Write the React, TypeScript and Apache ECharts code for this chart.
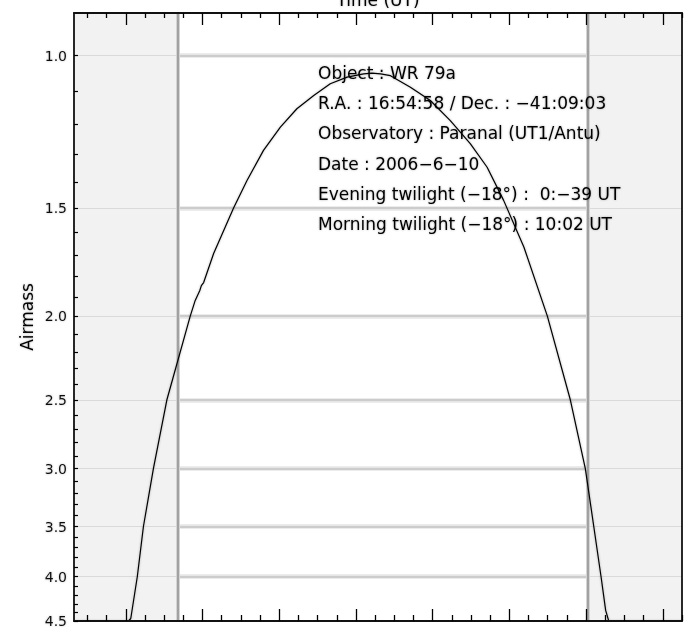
import React, { useEffect, useRef } from "react";
import * as echarts from "echarts";

// Curve: time (hours UT) and airmass (clipped at 4.5)
const hoursUT = [
  -3.35, -1.93, -1.87, -1.7, -1.54, -1.28, -0.93, -0.32, -0.19, -0.07, -0.03, 0.03,
  0.29, 0.81, 1.16, 1.59, 2.03, 2.46, 2.9, 3.33, 3.77, 4.2, 4.42, 4.64, 4.9, 5.42,
  5.94, 6.46, 6.98, 7.42, 7.85, 8.38, 8.99, 9.59, 9.98, 10.2, 10.39, 10.51, 10.59, 12.5,
];
const airmass = [
  4.5, 4.5, 4.47, 4.0, 3.5, 3.0, 2.5, 2.0, 1.918, 1.868, 1.844, 1.829,
  1.693, 1.5, 1.394, 1.287, 1.21, 1.152, 1.112, 1.078, 1.059, 1.05, 1.048, 1.05, 1.055, 1.088,
  1.127, 1.189, 1.264, 1.346, 1.47, 1.665, 2.0, 2.5, 3.0, 3.5, 4.0, 4.375, 4.5, 4.5,
];

const yLabelValues = [1.0, 1.5, 2.0, 2.5, 3.0, 3.5, 4.0, 4.5];
const yTickValues = [
  1.0, 1.1, 1.2, 1.3, 1.4, 1.5, 1.6, 1.7, 1.8, 1.9, 2.0, 2.1, 2.2, 2.3, 2.4, 2.5, 2.6, 2.7,
  2.8, 2.9, 3.0, 3.1, 3.2, 3.3, 3.4, 3.5, 3.6, 3.7, 3.8, 3.9, 4.0, 4.1, 4.2, 4.3, 4.4, 4.5,
];
const gridValues = [1.0, 1.5, 2.0, 2.5, 3.0, 3.5, 4.0];
const xMajorTicks = [-2, 0, 2, 4, 6, 8, 10, 12];
const xMinorTicks = [
  -3, -2.5, -1.5, -1, -0.5, 0.5, 1, 1.5, 2.5, 3, 3.5, 4.5, 5, 5.5, 6.5, 7, 7.5, 8.5, 9,
  9.5, 10.5, 11, 11.5, 12.5,
];

const X_MIN = -3.35;
const X_MAX = 12.5;
const AIRMASS_TOP = 0.893;
const AIRMASS_BOTTOM = 4.5;
const EVENING_TWILIGHT = -(39 / 60); // 0:-39 UT
const MORNING_TWILIGHT = 10 + 2 / 60; // 10:02 UT

const infoLines = [
  "Object : WR 79a",
  "R.A. : 16:54:58 / Dec. : −41:09:03",
  "Observatory : Paranal (UT1/Antu)",
  "Date : 2006−6−10",
  "Evening twilight (−18°) :  0:−39 UT",
  "Morning twilight (−18°) : 10:02 UT",
];

const FONT = "DejaVu Sans";

export default function App() {
  const ref = useRef<HTMLDivElement>(null);

  useEffect(() => {
    if (!ref.current) return;
    const chart = echarts.init(ref.current, null, { renderer: "svg" });
    const ln = (a: number) => Math.log(a);
    const yMin = ln(AIRMASS_TOP);
    const yMax = ln(AIRMASS_BOTTOM);
    const curveData = hoursUT.map((h, i) => [h, ln(airmass[i])]);

    const frameLine = {
      show: true,
      onZero: false,
      lineStyle: { color: "#111", width: 1.8 },
    };
    const xAxisBase = (position: string, ticks: number[], len: number, showLine: boolean) => ({
      type: "value",
      position,
      min: X_MIN,
      max: X_MAX,
      z: 6,
      axisLine: showLine ? frameLine : { show: false, onZero: false },
      axisTick: {
        show: true,
        inside: true,
        length: len,
        customValues: ticks,
        lineStyle: { color: "#000", width: 1.3 },
      },
      axisLabel: { show: false },
      splitLine: { show: false },
    });

    const thinGrid = gridValues.map((v) => [
      { coord: [X_MIN, ln(v)], lineStyle: { color: "#dadada", width: 1, type: "solid" } },
      { coord: [X_MAX, ln(v)] },
    ]);
    const glowGrid = gridValues.map((v) => [
      { coord: [EVENING_TWILIGHT, ln(v)], lineStyle: { color: "#e6e6e6", width: 4.5, type: "solid" } },
      { coord: [MORNING_TWILIGHT, ln(v)] },
    ]);
    const thickGrid = gridValues.map((v) => [
      { coord: [EVENING_TWILIGHT, ln(v)], lineStyle: { color: "#cccccc", width: 2, type: "solid" } },
      { coord: [MORNING_TWILIGHT, ln(v)] },
    ]);
    const twilightGlow = [EVENING_TWILIGHT, MORNING_TWILIGHT].map((t) => ({
      xAxis: t,
      lineStyle: { color: "#d4d4d4", width: 4, type: "solid" },
    }));
    const twilightBorders = [EVENING_TWILIGHT, MORNING_TWILIGHT].map((t) => ({
      xAxis: t,
      lineStyle: { color: "#9c9c9c", width: 1.8, type: "solid" },
    }));

    const textStyleBase = {
      fontFamily: FONT,
      fill: "#000",
      textShadowColor: "rgba(0,0,0,0.3)",
      textShadowBlur: 2,
    };

    chart.setOption({
      animation: false,
      grid: { left: 74, right: 10, top: 13, bottom: 10, containLabel: false },
      xAxis: [
        xAxisBase("top", xMajorTicks, 12, true),
        xAxisBase("top", xMinorTicks, 5, false),
        xAxisBase("bottom", xMajorTicks, 12, true),
        xAxisBase("bottom", xMinorTicks, 6, false),
      ],
      yAxis: [
        {
          type: "value",
          inverse: true,
          min: yMin,
          max: yMax,
          position: "left",
          z: 6,
          axisLine: frameLine,
          axisTick: {
            show: true,
            inside: true,
            length: 4,
            customValues: yTickValues.map(ln),
            lineStyle: { color: "#000", width: 1.2 },
          },
          axisLabel: {
            show: true,
            customValues: yLabelValues.map(ln),
            formatter: (v: number) => Math.exp(v).toFixed(1),
            margin: 7,
            fontSize: 14,
            fontFamily: FONT,
            color: "#111",
            textShadowColor: "rgba(0,0,0,0.25)",
            textShadowBlur: 2,
          },
          splitLine: { show: false },
        },
        {
          type: "value",
          inverse: true,
          min: yMin,
          max: yMax,
          position: "right",
          z: 6,
          axisLine: frameLine,
          axisTick: { show: false },
          axisLabel: { show: false },
          splitLine: { show: false },
        },
      ],
      series: [
        {
          type: "line",
          data: curveData,
          xAxisIndex: 0,
          yAxisIndex: 0,
          symbol: "none",
          showSymbol: false,
          silent: true,
          z: 2,
          lineStyle: { color: "#000", width: 1.2, shadowBlur: 2, shadowColor: "rgba(0,0,0,0.3)" },
          markArea: {
            silent: true,
            z: 1,
            itemStyle: { color: "#f2f2f2" },
            data: [
              [{ xAxis: X_MIN }, { xAxis: EVENING_TWILIGHT }],
              [{ xAxis: MORNING_TWILIGHT }, { xAxis: X_MAX }],
            ],
          },
          markLine: {
            silent: true,
            z: 1.5,
            symbol: ["none", "none"],
            label: { show: false },
            data: [...thinGrid, ...glowGrid, ...thickGrid, ...twilightGlow, ...twilightBorders],
          },
        },
      ],
      graphic: [
        {
          type: "text",
          x: 378,
          y: 0,
          z: 10,
          style: {
            ...textStyleBase,
            text: "Time (UT)",
            fontSize: 17,
            align: "center",
            textAlign: "center",
            verticalAlign: "middle",
            textVerticalAlign: "middle",
          },
        },
        {
          type: "text",
          x: 27,
          y: 317,
          rotation: Math.PI / 2,
          z: 10,
          style: {
            ...textStyleBase,
            text: "Airmass",
            fontSize: 17,
            align: "center",
            textAlign: "center",
            verticalAlign: "middle",
            textVerticalAlign: "middle",
          },
        },
        ...infoLines.map((line, i) => ({
          type: "text",
          x: 318,
          y: 72.5 + i * 30.35,
          z: 10,
          style: {
            ...textStyleBase,
            text: line,
            fontSize: 17,
            align: "left",
            textAlign: "left",
            verticalAlign: "middle",
            textVerticalAlign: "middle",
          },
        })),
      ],
    });

    return () => chart.dispose();
  }, []);

  return (
    <div
      ref={ref}
      style={{ position: "absolute", left: 0, top: 0, width: 692, height: 631, background: "#fff" }}
    />
  );
}
